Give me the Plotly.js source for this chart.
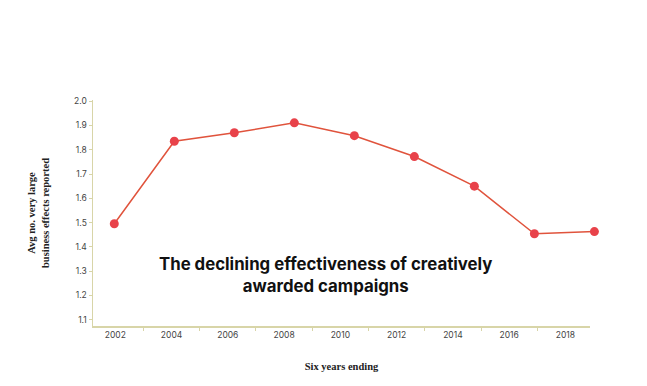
<!DOCTYPE html>
<html><head><meta charset="utf-8">
<script src="https://cdn.plot.ly/plotly-3.0.1.min.js"></script>
<style>body{margin:0;background:#fff}#chart{width:647px;height:386px}</style>
</head><body><div id="chart"></div>
<script>
const yearLabels = ["2002","2004","2006","2008","2010","2012","2014","2016","2018"];
const years = [2002, 2004, 2006, 2008, 2010, 2012, 2014, 2016, 2018];
const avgEffects = [1.495, 1.835, 1.870, 1.911, 1.858, 1.772, 1.650, 1.454, 1.463];
const yTicks = [1.1, 1.2, 1.3, 1.4, 1.5, 1.6, 1.7, 1.8, 1.9, 2.0];

const axisColor = "#d8d5a8";
const titleFont = {family: "Liberation Serif, Times New Roman, serif", size: 10.5, color: "#222", weight: "bold"};
const traces = [
  {x: yearLabels, y: yearLabels.map(() => null), xaxis: "x", yaxis: "y", type: "scatter", mode: "markers", showlegend: false, hoverinfo: "skip"},
  {x: years, y: avgEffects, xaxis: "x2", yaxis: "y", type: "scatter", mode: "lines+markers",
   line: {color: "#e0533c", width: 1.5}, marker: {color: "#e8424a", size: 9},
   cliponaxis: false, showlegend: false}
];
const layout = {
  width: 647, height: 386,
  margin: {l: 93, r: 40, t: 100, b: 60},
  paper_bgcolor: "#fff", plot_bgcolor: "rgba(0,0,0,0)",
  font: {family: "Inter, Roboto, sans-serif", color: "#444"},
  xaxis: {
    domain: [0, 497/514], type: "category", range: [-0.396, 8.437],
    tickson: "boundaries", ticks: "outside", ticklen: 3, tickcolor: axisColor,
    showline: true, linecolor: axisColor, linewidth: 1.5, showgrid: false, zeroline: false,
    tickfont: {size: 8.5, color: "#444"},
    title: {text: "Six years ending", font: titleFont, standoff: 24}
  },
  xaxis2: {
    domain: [0, 1], anchor: "y", range: [2001.29, 2018.42], visible: false, showgrid: false, zeroline: false
  },
  yaxis: {
    range: [1.074, 2.005], tickvals: yTicks, tickformat: ".1f",
    ticks: "outside", ticklen: 3, tickcolor: axisColor,
    showline: true, linecolor: axisColor, linewidth: 1.5, showgrid: false, zeroline: false,
    tickfont: {size: 8.5, color: "#444"},
    title: {text: "Avg no. very large<br>business effects reported", font: titleFont, standoff: 22}
  },
  annotations: [{
    xref: "paper", yref: "paper", x: (325-93)/514, y: (326-275)/226,
    text: "The declining effectiveness of creatively<br>awarded campaigns",
    showarrow: false, xanchor: "center", yanchor: "middle",
    font: {family: "Inter, Roboto, sans-serif", size: 16.8, color: "#111", weight: 700}
  }]
};
Plotly.newPlot("chart", traces, layout, {displayModeBar: false, staticPlot: true});
</script></body></html>
